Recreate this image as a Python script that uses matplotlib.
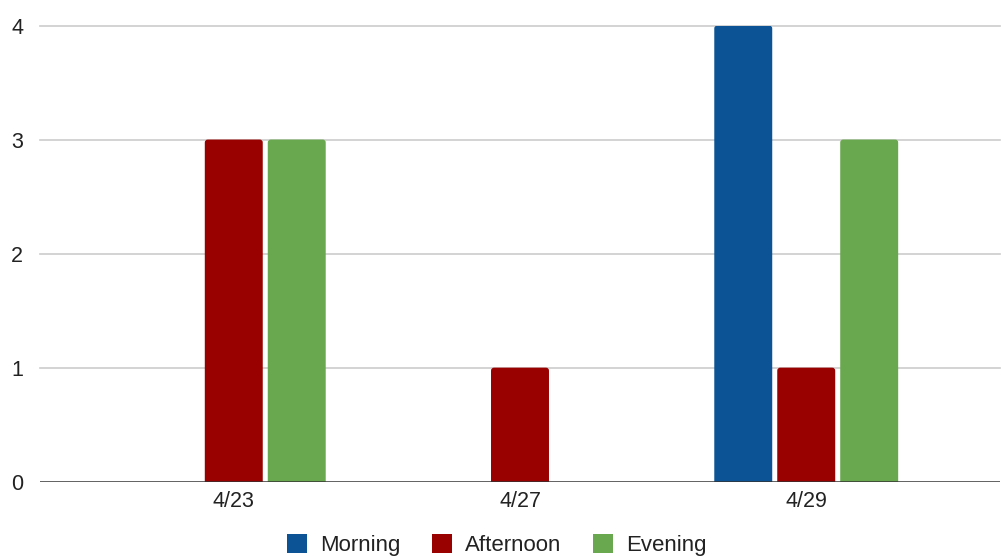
import numpy as np
import matplotlib
matplotlib.use("Agg")
import matplotlib.pyplot as plt
from matplotlib.patches import FancyBboxPatch, Patch

plt.rcParams['font.family'] = ['Liberation Sans', 'DejaVu Sans']

# Counts per date, split by time of day
dates = ["4/23", "4/27", "4/29"]
morning = [0, 0, 4]
afternoon = [3, 1, 1]
evening = [3, 0, 3]
series_names = ["Morning", "Afternoon", "Evening"]
series_colors = ["#0B5394", "#990000", "#6AA84F"]
y_ticks = [0, 1, 2, 3, 4]

fig = plt.figure(figsize=(10.04, 5.56), dpi=100)
ax = fig.add_axes([40 / 1004, 1 - 481.7 / 556, 960 / 1004, (481.7 - 25.5) / 556])

x = np.arange(len(dates))
width = 0.2025
step = 0.22
ax.set_xlim(-0.677, 2.677)
ax.set_ylim(0, 4)

# px per data unit, used to keep the corner rounding circular
px_x = 960 / (2.677 + 0.677)
px_y = (481.7 - 25.5) / 4
radius = 3 / px_x
aspect = px_x / px_y

for i, (vals, name, col) in enumerate(zip([morning, afternoon, evening], series_names, series_colors)):
    bars = ax.bar(x + (i - 1) * step, vals, width=width, color=col, label=name, zorder=3)
    for rect in bars.patches:
        h = rect.get_height()
        rect.set_visible(False)
        if h <= 0:
            continue
        # rounded top corners; the bottom edge sits below the axis and is clipped
        ext = 0.05
        fb = FancyBboxPatch((rect.get_x(), -ext), rect.get_width(), h + ext,
                            boxstyle=f"round,pad=0,rounding_size={radius}",
                            mutation_aspect=aspect, facecolor=col, edgecolor="none",
                            zorder=3, clip_on=True)
        ax.add_patch(fb)

ax.set_yticks(y_ticks)
ax.set_xticks(x)
ax.set_xticklabels(dates)

for yv in y_ticks[1:]:
    ax.axhline(yv, color="#cccccc", lw=1.2, zorder=1, clip_on=False)
ax.axhline(0, color="#333333", lw=1.8, zorder=4)

for s in ax.spines.values():
    s.set_visible(False)
ax.tick_params(axis="both", length=0, labelsize=15.5, colors="#222222")
ax.tick_params(axis="y", pad=12)
ax.tick_params(axis="x", pad=7)

handles = [Patch(facecolor=c, edgecolor="none") for c in series_colors]
fig.legend(handles=handles, labels=series_names, loc="center", bbox_to_anchor=(497 / 1004, 1 - 545 / 556),
           ncol=3, frameon=False, fontsize=16, handlelength=0.9, handleheight=0.9,
           handletextpad=0.6, columnspacing=1.4, labelcolor="#222222")

fig.savefig("out.png", dpi=100, facecolor="white")
